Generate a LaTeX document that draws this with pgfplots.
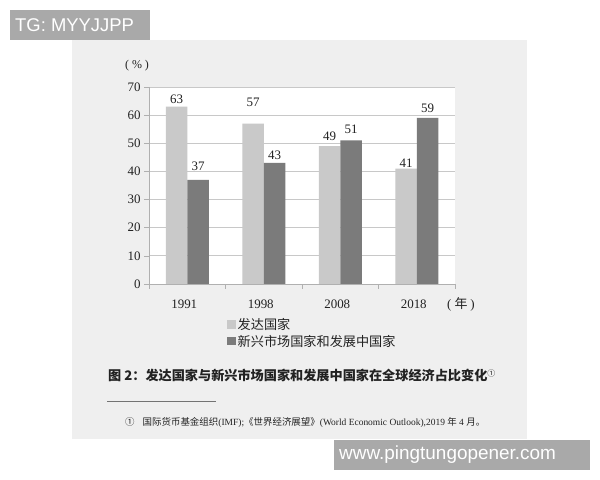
\documentclass[border=0pt]{standalone}
\usepackage{fontspec}
\setmainfont{Liberation Serif}
\newfontfamily\cjk{Noto Sans CJK SC}
\newfontfamily\wm{Liberation Sans}
\usepackage{pgfplots}
\pgfplotsset{compat=1.18}
\usepackage{pgfplotstable}

\definecolor{panel}{HTML}{EFEFEF}
\definecolor{lightbar}{HTML}{C9C9C9}
\definecolor{darkbar}{HTML}{7B7B7B}
\definecolor{gridc}{HTML}{C8C8C8}
\definecolor{axisc}{HTML}{B0B0B0}
\definecolor{wmgray}{HTML}{A9A9A9}
\definecolor{txt}{HTML}{222222}

% x: category index, y: share in %, dy: extra lift of the value label
\pgfplotstableread{
x y  dy
0 63 0
1 57 13
2 49 2
3 41 -2
}\developed
\pgfplotstableread{
x y  dy
0 37 6
1 43 0
2 51 3
3 59 2
}\emerging

\begin{document}
\begin{tikzpicture}[x=1bp,y=1bp]
\fill[white] (0,0) rectangle (600,480);
\path[use as bounding box] (0,0) rectangle (600,480);
\fill[panel] (72,41) rectangle (527,440);

\begin{axis}[
    at={(149bp,196bp)}, anchor=south west,
    scale only axis, width=306bp, height=197bp,
    axis background/.style={fill=white},
    ybar=0pt, bar width=21.5bp,
    xmin=-0.5, xmax=3.5, ymin=0, ymax=70,
    ytick={0,10,...,70},
    xtick={0,1,2,3}, xticklabels={1991,1998,2008,2018},
    axis lines*=left,
    axis line style={draw=axisc, line width=0.7bp},
    tick align=outside, major tick length=5bp,
    ytick style={draw=axisc, line width=0.7bp},
    xtick style={draw=none},
    extra x ticks={-0.5,0.5,1.5,2.5,3.5},
    extra x tick labels={},
    extra x tick style={xtick style={draw=axisc, line width=0.7bp}},
    ymajorgrids, major grid style={draw=gridc, line width=0.8bp},
    /pgf/number format/assume math mode=true,
    tick label style={font=\fontsize{13}{13}\selectfont, text=txt},
    xticklabel style={yshift=-7bp, xshift=-3bp},
    nodes near coords,
    visualization depends on={\thisrow{dy} \as \dy},
    every node near coord/.append style={font=\fontsize{13}{13}\selectfont, text=txt, yshift=\dy bp},
    legend style={at={(0.255,-0.163)}, anchor=north west, draw=none, fill=none,
        font=\cjk\fontsize{13.2}{14}\selectfont, text=txt, row sep=0bp, inner sep=0pt},
    legend cell align=left,
    /pgfplots/legend image code/.code={\fill[#1] (-3bp,-4.25bp) rectangle (5.5bp,4.25bp);},
]
\addplot[fill=lightbar, draw=none] table[x=x, y=y] {\developed};
\addplot[fill=darkbar, draw=none] table[x=x, y=y] {\emerging};
\legend{发达国家, 新兴市场国家和发展中国家}
\end{axis}

\node[font=\fontsize{12}{12}\selectfont, text=txt] at (137,414) {(\hspace{3bp}\%\hspace{3bp})};
\node[font=\fontsize{13}{13}\selectfont, text=txt] at (461,176) {(\hspace{3bp}{\cjk 年}\hspace{3bp})};

\node[anchor=west, text=txt, font=\cjk\bfseries\fontsize{13.2}{15}\selectfont, inner sep=0pt]
    at (108,105) {图 2：发达国家与新兴市场国家和发展中国家在全球经济占比变化\raisebox{4bp}{\fontsize{8}{8}\selectfont\mdseries ①}};
\draw[draw=black!55, line width=0.8bp] (107,79) -- (216,79);
\node[anchor=west, text=txt, font=\fontsize{9.5}{11}\selectfont, inner sep=0pt]
    at (125,58) {{\cjk ①}\hspace{8bp}{\cjk 国际货币基金组织}(IMF);{\cjk 《世界经济展望》}(World Economic Outlook),2019 {\cjk 年} 4 {\cjk 月。}};

\fill[wmgray] (10,440) rectangle (150,470);
\node[anchor=west, text=white, font=\wm\fontsize{18.5}{19}\selectfont, inner sep=0pt] at (15,455) {TG: MYYJJPP};
\fill[wmgray] (334,10) rectangle (590,40);
\node[anchor=west, text=white, font=\wm\fontsize{19}{20}\selectfont, inner sep=0pt] at (339,25) {www.pingtungopener.com};
\end{tikzpicture}
\end{document}
